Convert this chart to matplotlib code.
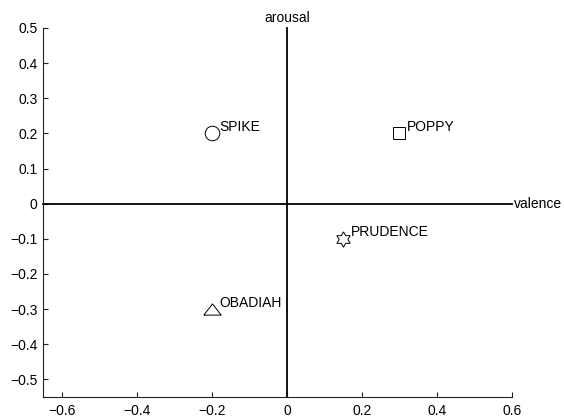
import numpy as np
import matplotlib
matplotlib.use("Agg")
import matplotlib.pyplot as plt

# Character positions in the valence / arousal plane
names = ["SPIKE", "POPPY", "PRUDENCE", "OBADIAH"]
valence = [-0.2, 0.3, 0.15, -0.2]
arousal = [0.2, 0.2, -0.1, -0.3]

x_ticks = [-0.6, -0.4, -0.2, 0, 0.2, 0.4, 0.6]
x_tick_labels = ["\u22120.6", "\u22120.4", "\u22120.2", "0", "0.2", "0.4", "0.6"]
y_ticks = [-0.5, -0.4, -0.3, -0.2, -0.1, 0, 0.1, 0.2, 0.3, 0.4, 0.5]
y_tick_labels = ["\u22120.5", "\u22120.4", "\u22120.3", "\u22120.2", "\u22120.1", "0",
                 "0.1", "0.2", "0.3", "0.4", "0.5"]

plt.rcParams["font.family"] = ["Liberation Sans", "DejaVu Sans"]

# six-pointed star (hexagram) outline, closed
ang = np.deg2rad(90 + 30 * np.arange(13))
rad = np.where(np.arange(13) % 2 == 0, 1.0, 1 / np.sqrt(3))
hexagram = list(zip(rad * np.cos(ang), rad * np.sin(ang)))
# wide, flat triangle, closed
wide_triangle = [(-1.0, -0.647), (1.0, -0.647), (0.0, 0.647), (-1.0, -0.647)]

markers = [("o", 10.5), ("s", 9), (hexagram, 11), (wide_triangle, 12.5)]

fig = plt.figure(figsize=(5.64, 4.17), dpi=100)
ax = fig.add_axes([43 / 564, 1 - 397 / 417, (512 - 43) / 564, (397 - 28) / 417])

xlim = (-0.65, 0.6)
ylim = (-0.55, 0.5)
ax.set_xlim(*xlim)
ax.set_ylim(*ylim)

# quadrant axes through the origin
ax.plot(xlim, [0, 0], color="black", lw=1.3, clip_on=False, zorder=2)
ax.plot([0, 0], ylim, color="black", lw=1.3, clip_on=False, zorder=2)

for name, vx, vy, (mk, ms) in zip(names, valence, arousal, markers):
    ax.plot(vx, vy, linestyle="none", marker=mk, markersize=ms,
            markerfacecolor="white", markeredgecolor="black",
            markeredgewidth=0.7, zorder=3)
    ax.text(vx + 0.02, vy + 0.007, name, fontsize=10, ha="left",
            va="baseline", zorder=4)

ax.text(0, 0.508, "arousal", fontsize=10, ha="center", va="bottom")
ax.text(0.605, 0, "valence", fontsize=10, ha="left", va="center")

ax.set_xticks(x_ticks)
ax.set_xticklabels(x_tick_labels)
ax.set_yticks(y_ticks)
ax.set_yticklabels(y_tick_labels)

for side in ("top", "right"):
    ax.spines[side].set_visible(False)
for side in ("left", "bottom"):
    ax.spines[side].set_linewidth(0.8)
    ax.spines[side].set_color("#222222")

ax.tick_params(direction="in", length=3.5, width=0.8, labelsize=10,
               color="#222222", labelcolor="black")
ax.tick_params(axis="y", pad=4)
ax.tick_params(axis="x", pad=5)

fig.savefig("out.png", dpi=100)
